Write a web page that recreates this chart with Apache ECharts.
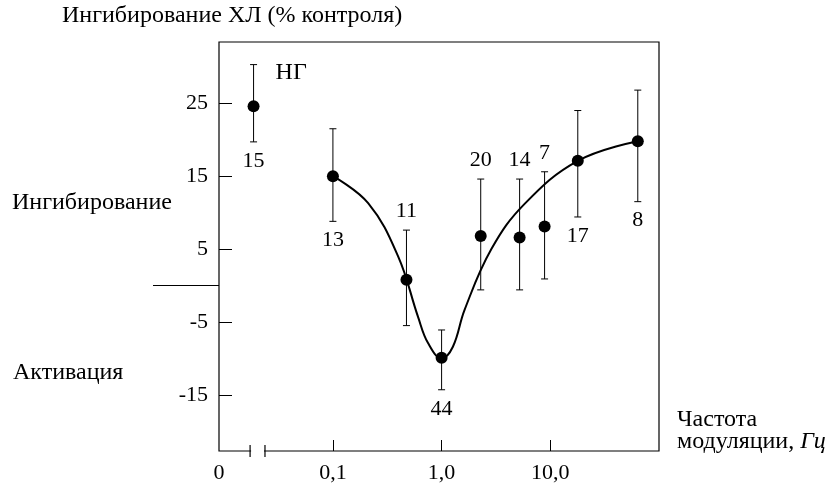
<!DOCTYPE html>
<html>
<head>
<meta charset="utf-8">
<script src="https://cdn.jsdelivr.net/npm/echarts@6/dist/echarts.min.js"></script>
<style>
  html, body { margin: 0; padding: 0; background: #fff; }
  #chart { width: 826px; height: 486px; }
</style>
</head>
<body>
<div id="chart"></div>
<script>
  // frequencies in Hz, values in % of control
  const freqs = [0.1, 0.475, 1.0, 2.29, 5.22, 8.86, 17.9, 63.8];
  const means = [15.0, 0.8, -9.9, 6.8, 6.6, 8.1, 17.1, 19.8];
  const errLow = [8.8, -5.5, -14.3, -0.6, -0.6, 0.9, 9.4, 11.5];
  const errHigh = [21.5, 7.6, -6.1, 14.6, 14.6, 15.6, 24.0, 26.8];
  const counts = [13, 11, 44, 20, 14, 7, 17, 8];
  const countSide = ["below", "above", "below", "above", "above", "above", "below", "below"];

  // НГ point sits left of the axis break (position in decades)
  const ngPos = -1.73;
  const ngMean = 24.6;
  const ngLow = 19.7;
  const ngHigh = 30.3;
  const ngCount = 15;

  // fitted curve
  const curveFreqs = [0.1, 0.211, 0.398, 0.607, 0.75, 1.0, 1.27, 1.63, 2.87, 5.8, 17.9, 63.8];
  const curveVals = [15.0, 11.3, 4.0, -4.3, -7.9, -10.0, -8.4, -3.3, 5.0, 11.2, 17.1, 19.8];

  const xMin = -2.048;
  const xMax = 2.0;
  const xTickPos = [-1, 0, 1];
  const xLabelPos = [xMin, -1, 0, 1];
  const xLabels = { "-1": "0,1", "0": "1,0", "1": "10,0" };
  const yTicks = [25, 15, 5, -5, -15];

  const font = '"Liberation Serif", "Times New Roman", serif';
  const numSize = 22;
  const textSize = 24;

  const points = freqs.map((f, i) => [Math.log10(f), means[i]]);
  points.unshift([ngPos, ngMean]);
  const bars = freqs.map((f, i) => [Math.log10(f), errLow[i], errHigh[i], counts[i], countSide[i]]);
  bars.unshift([ngPos, ngLow, ngHigh, ngCount, "below"]);
  const curve = curveFreqs.map((f, i) => [Math.log10(f), curveVals[i]]);

  const chart = echarts.init(document.getElementById("chart"));

  chart.setOption({
    animation: false,
    backgroundColor: "#fff",
    grid: {
      left: 219, right: 167, top: 42, bottom: 35,
      show: true, borderColor: "#000", borderWidth: 1.2, backgroundColor: "transparent",
    },
    xAxis: {
      type: "value",
      min: xMin,
      max: xMax,
      axisLine: { show: false, onZero: false },
      splitLine: { show: false },
      axisTick: { show: true, inside: true, length: 11, customValues: xTickPos, lineStyle: { color: "#000", width: 1 } },
      axisLabel: {
        customValues: xLabelPos,
        margin: 11,
        color: "#000",
        fontFamily: font,
        fontSize: numSize,
        formatter: (v) => (Math.abs(v - xMin) < 1e-6 ? "0" : xLabels[String(Math.round(v))]),
      },
    },
    yAxis: {
      type: "value",
      min: -22.7,
      max: 33.4,
      axisLine: { show: false, onZero: false },
      splitLine: { show: false },
      axisTick: { show: true, inside: true, length: 13, customValues: yTicks, lineStyle: { color: "#000", width: 1 } },
      axisLabel: { customValues: yTicks, margin: 11, color: "#000", fontFamily: font, fontSize: numSize },
    },
    series: [
      {
        type: "line",
        data: curve,
        smooth: 0.4,
        showSymbol: false,
        lineStyle: { color: "#000", width: 2 },
        z: 2,
      },
      {
        type: "custom",
        data: bars,
        z: 3,
        renderItem(params, api) {
          const x = api.value(0);
          const top = api.coord([x, api.value(2)]);
          const bot = api.coord([x, api.value(1)]);
          const side = bars[params.dataIndex][4];
          const cap = 3.5;
          const ln = (x1, y1, x2, y2) => ({
            type: "line",
            shape: { x1, y1, x2, y2 },
            style: { stroke: "#000", lineWidth: 1 },
          });
          return {
            type: "group",
            children: [
              ln(top[0], top[1], bot[0], bot[1]),
              ln(top[0] - cap, top[1], top[0] + cap, top[1]),
              ln(bot[0] - cap, bot[1], bot[0] + cap, bot[1]),
              {
                type: "text",
                style: {
                  text: String(api.value(3)),
                  x: top[0],
                  y: side === "above" ? top[1] - 19 : bot[1] + 19,
                  align: "center",
                  verticalAlign: "middle",
                  font: numSize + "px " + font,
                  fill: "#000",
                },
              },
            ],
          };
        },
      },
      {
        type: "scatter",
        data: points,
        symbolSize: 12,
        itemStyle: { color: "#000", opacity: 1 },
        z: 4,
      },
    ],
  });

  const px = (x, y) => chart.convertToPixel({ gridIndex: 0 }, [x, y]);
  const zero = px(xMin, 0);
  const b1 = px(-1.762, -22.7);
  const b2 = px(-1.625, -22.7);
  const ng = px(ngPos, ngHigh);

  const txt = (text, x, y, extra) => ({
    type: "text",
    x, y,
    style: Object.assign({ text, font: textSize + "px " + font, fill: "#000", verticalAlign: "middle" }, extra || {}),
  });

  chart.setOption({
    graphic: [
      // line at 0 to the left of the axis
      { type: "line", shape: { x1: 153, y1: zero[1], x2: zero[0], y2: zero[1] }, style: { stroke: "#000", lineWidth: 1.2 } },
      // axis break
      { type: "rect", shape: { x: b1[0] + 1, y: b1[1] - 3, width: b2[0] - b1[0] - 2, height: 6 }, style: { fill: "#fff" }, z: 10 },
      { type: "line", shape: { x1: b1[0], y1: b1[1] - 6, x2: b1[0], y2: b1[1] + 6 }, style: { stroke: "#000", lineWidth: 1.2 }, z: 11 },
      { type: "line", shape: { x1: b2[0], y1: b2[1] - 6, x2: b2[0], y2: b2[1] + 6 }, style: { stroke: "#000", lineWidth: 1.2 }, z: 11 },
      txt("Ингибирование ХЛ (% контроля)", 62, 16),
      txt("Ингибирование", 12, 203),
      txt("Активация", 13, 373),
      txt("НГ", ng[0] + 22, ng[1] + 8),
      txt("Частота", 677, 420),
      {
        type: "text",
        x: 677, y: 442,
        style: {
          text: "модуляции, {i|Гц}",
          font: textSize + "px " + font,
          fill: "#000",
          verticalAlign: "middle",
          rich: { i: { fontStyle: "italic", fontFamily: font, fontSize: textSize } },
        },
      },
    ],
  });
</script>
</body>
</html>
